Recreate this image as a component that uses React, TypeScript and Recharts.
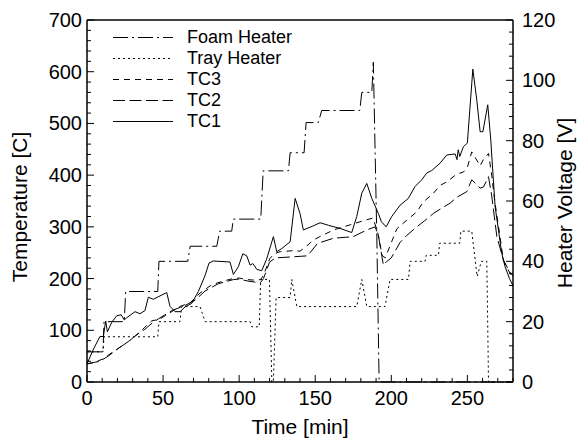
import { LineChart, Line, XAxis, YAxis, Legend } from 'recharts';

const font = '"Liberation Sans", Arial, Helvetica, sans-serif';

// heater voltages [V] vs time [min]
const foamTime = [0, 10.5, 11.2, 24.5, 25.4, 46.5, 47.3, 66.2, 67.8, 85.3, 87.2, 95.1, 96.2, 114.2, 115.8, 132.4, 133.5, 142.7, 144, 152, 154.3, 179.3, 180.6, 187.2, 188.2, 190.5, 192, 280];
const foamVolt = [10, 10, 20, 20, 30, 30, 40, 40, 45, 45, 50, 50, 54, 54, 70, 70, 76, 76, 86, 86, 90, 90, 96, 96, 106, 48, 0, 0];

const trayTime = [0, 10.5, 11.2, 46.5, 47.3, 61.1, 62.2, 74.3, 77.6, 107.2, 108.3, 113.2, 114.2, 119.9, 121.5, 122.5, 124.3, 133.5, 134.6, 137.9, 177.3, 180.6, 183.9, 195.9, 199.2, 211.3, 212.4, 222.2, 222.9, 231, 231.8, 245, 245.7, 252.9, 256.4, 259.2, 262.8, 263.9, 280];
const trayVolt = [10, 10, 15, 15, 20, 20, 25, 25, 20, 20, 18.3, 18.3, 34, 34, 0, 0, 28, 28, 34, 25, 25, 34, 25, 25, 34, 34, 40, 40, 42, 42, 46, 46, 50, 50, 35, 40, 40, 0, 0];

// thermocouple temperatures [C] vs time [min]
const tc1Time = [0, 4, 8.5, 10.7, 12.3, 13.4, 16.2, 19.5, 22.4, 24.5, 26, 31.6, 34.8, 38.1, 40.3, 43.6, 52.4, 54.6, 57.9, 61.2, 64.4, 68.8, 73.2, 77.6, 80.2, 83, 94, 96.2, 99.5, 102.4, 105, 107.2, 109, 111.6, 114.8, 118, 122.5, 124.7, 128, 133.5, 136.8, 140, 142.2, 148.8, 153.2, 158.7, 166.3, 174, 177.3, 180.6, 183.9, 187.2, 191.5, 193.5, 196.6, 200.3, 205.8, 211.2, 215.6, 220, 223.3, 226.6, 232, 236.5, 242, 243.2, 244, 245, 247.4, 250, 253.6, 256.2, 258.4, 260.2, 263.4, 265.4, 268.2, 272.6, 274.8, 277.7, 280];
const tc1Temp = [35, 62, 88, 88, 118, 97, 115, 128, 130, 120, 124, 136, 132, 138, 164, 160, 173, 146, 136, 136, 145, 152, 175, 206, 230, 234, 232, 208, 223, 248, 244, 226, 229, 218, 215, 237, 281, 252, 258, 271, 355, 326, 294, 302, 308, 303, 297, 289, 320, 365, 384, 355, 326, 310, 300, 320, 342, 355, 378, 391, 404, 409, 423, 439, 441, 430, 449, 436, 455, 462, 605, 545, 484, 484, 536, 468, 340, 249, 223, 200, 186];

const tc2Time = [0, 5, 8.5, 14, 20.6, 27.2, 32, 38.1, 42, 46.9, 55.7, 64.4, 71, 77.6, 86.3, 96.2, 100, 106, 111, 114, 116, 120, 124, 135, 145, 151.5, 162, 175, 183.9, 189.3, 191.5, 194.8, 197, 200, 205.8, 210, 216.8, 222, 227.7, 232, 238.7, 243, 249.6, 252.9, 258.4, 260.6, 263.9, 266, 269.4, 273.7, 277.7, 280];
const tc2Temp = [35, 38, 40, 50, 65, 78, 90, 102, 112, 122, 138, 148, 158, 176, 190, 198, 199, 195, 193, 192, 200, 232, 240, 242, 244, 268, 278, 281, 294, 300, 284, 226, 233, 240, 270, 283, 300, 312, 326, 334, 346, 357, 368, 391, 375, 377, 397, 360, 281, 236, 213, 205];

const tc3Time = [0, 5, 10, 15, 20, 27, 33, 38, 42.5, 48, 54.6, 61, 67.7, 74.3, 81, 86, 92, 96, 100, 105, 110, 114, 116, 120, 123, 127, 135.6, 140, 144, 149, 153, 162, 173, 183, 188, 191, 194, 196, 199, 203.6, 210.2, 216.8, 221, 227.7, 232, 236.5, 243, 247.4, 250, 252.9, 256.2, 258.4, 260.5, 263.9, 266, 268, 271, 273.7, 277.7, 280];
const tc3Temp = [35, 38, 44, 54, 64, 78, 92, 106, 118, 122, 134, 146, 153, 172, 186, 192, 197, 200, 201, 198, 197, 198, 206, 238, 248, 252, 254, 253, 262, 275, 281, 294, 304, 313, 317, 290, 245, 240, 262, 296, 313, 329, 348, 365, 380, 387, 402, 406, 415, 445, 429, 418, 430, 442, 400, 350, 290, 235, 212, 200];

// axis ticks: labelled majors, unlabelled minors in between
const timeMajor = [0, 50, 100, 150, 200, 250];
const tempMajor = [0, 100, 200, 300, 400, 500, 600, 700];
const voltMajor = [0, 20, 40, 60, 80, 100, 120];
const timeTicks = Array.from({ length: 29 }, (_, i) => i * 10);
const tempTicks = Array.from({ length: 36 }, (_, i) => i * 20);
const voltTicks = Array.from({ length: 31 }, (_, i) => i * 4);

const legendNames = ['Foam Heater', 'Tray Heater', 'TC3', 'TC2', 'TC1'];
const dashes: Record<string, string | undefined> = {
  'Foam Heater': '15 4 2 4',
  'Tray Heater': '2 3',
  TC3: '6 5',
  TC2: '12 4.5',
  TC1: undefined,
};

const zip = (t: number[], v: number[]) => t.map((x, i) => ({ t: x, v: v[i] }));

function BottomTick({ x, y, payload }: any) {
  const major = timeMajor.includes(payload.value);
  return (
    <g>
      <line x1={x} x2={x} y1={y} y2={y - (major ? 7 : 4)} stroke="#000" />
      {major && (
        <text x={x} y={y + 23} textAnchor="middle" fontSize={20} fontFamily={font} fill="#000">
          {payload.value}
        </text>
      )}
    </g>
  );
}

function TopTick({ x, y, payload }: any) {
  const major = timeMajor.includes(payload.value);
  return <line x1={x} x2={x} y1={y} y2={y + (major ? 7 : 4)} stroke="#000" />;
}

function LeftTick({ x, y, payload }: any) {
  const major = tempMajor.includes(payload.value);
  return (
    <g>
      <line x1={x} x2={x + (major ? 7 : 4)} y1={y} y2={y} stroke="#000" />
      {major && (
        <text x={x - 5} y={y + 7} textAnchor="end" fontSize={20} fontFamily={font} fill="#000">
          {payload.value}
        </text>
      )}
    </g>
  );
}

function RightTick({ x, y, payload }: any) {
  const major = voltMajor.includes(payload.value);
  return (
    <g>
      <line x1={x} x2={x - (major ? 7 : 4)} y1={y} y2={y} stroke="#000" />
      {major && (
        <text x={x + 9} y={y + 7} textAnchor="start" fontSize={20} fontFamily={font} fill="#000">
          {payload.value}
        </text>
      )}
    </g>
  );
}

function LegendBox() {
  return (
    <div style={{ fontFamily: font, fontSize: 18, color: '#000' }}>
      {legendNames.map(name => (
        <div key={name} style={{ display: 'flex', alignItems: 'center', height: 21 }}>
          <svg width={60} height={21} style={{ marginRight: 14 }}>
            <line x1={0} x2={60} y1={10.5} y2={10.5} stroke="#000" strokeWidth={1} strokeDasharray={dashes[name]} />
          </svg>
          <span style={{ lineHeight: '21px' }}>{name}</span>
        </div>
      ))}
    </div>
  );
}

const titleProps = { fontSize: 21, fontFamily: font, fill: '#000', textAnchor: 'middle' as const };

export default function App() {
  const axisLine = { stroke: '#000', strokeWidth: 1.5 };
  return (
    <div style={{ position: 'absolute', left: 0, top: 0, width: 582, height: 439, background: '#fff' }}>
      <LineChart width={582} height={439} margin={{ top: 0, right: 0, bottom: 0, left: 0 }}>
        <XAxis
          xAxisId="bottom"
          type="number"
          dataKey="t"
          domain={[0, 280]}
          ticks={timeTicks}
          interval={0}
          tickSize={0}
          tickMargin={0}
          tickLine={false}
          tick={<BottomTick />}
          axisLine={axisLine}
          height={57}
          label={({ viewBox }: any) => {
            const vb = viewBox || { x: 87, y: 382, width: 426 };
            return (
              <text x={vb.x + vb.width / 2} y={vb.y + 52} {...titleProps}>
                Time [min]
              </text>
            );
          }}
        />
        <XAxis
          xAxisId="top"
          orientation="top"
          type="number"
          dataKey="t"
          domain={[0, 280]}
          ticks={timeTicks}
          interval={0}
          tickSize={0}
          tickMargin={0}
          tickLine={false}
          tick={<TopTick />}
          axisLine={axisLine}
          height={20}
        />
        <YAxis
          yAxisId="temp"
          orientation="left"
          type="number"
          domain={[0, 700]}
          ticks={tempTicks}
          interval={0}
          tickSize={0}
          tickMargin={0}
          tickLine={false}
          tick={<LeftTick />}
          axisLine={axisLine}
          width={87}
          label={({ viewBox }: any) => {
            const vb = viewBox || { x: 0, y: 20, height: 362 };
            const cx = vb.x + 20;
            const cy = vb.y + vb.height / 2 + 6;
            return (
              <text transform={`translate(${cx},${cy}) rotate(-90)`} dy={7} {...titleProps}>
                Temperature [C]
              </text>
            );
          }}
        />
        <YAxis
          yAxisId="volt"
          orientation="right"
          type="number"
          domain={[0, 120]}
          ticks={voltTicks}
          interval={0}
          tickSize={0}
          tickMargin={0}
          tickLine={false}
          tick={<RightTick />}
          axisLine={axisLine}
          width={69}
          label={({ viewBox }: any) => {
            const vb = viewBox || { x: 513, y: 20, height: 362 };
            const cx = vb.x + 52;
            const cy = vb.y + vb.height / 2 + 2;
            return (
              <text transform={`translate(${cx},${cy}) rotate(-90)`} dy={7} {...titleProps}>
                Heater Voltage [V]
              </text>
            );
          }}
        />
        <Legend
          layout="vertical"
          align="center"
          verticalAlign="middle"
          content={<LegendBox />}
          wrapperStyle={{ left: 113, top: 27, width: 220, height: 110 }}
        />
        <Line data={zip(foamTime, foamVolt)} dataKey="v" name="Foam Heater" xAxisId="bottom" yAxisId="volt"
          type="linear" stroke="#000" strokeWidth={1} strokeDasharray={dashes['Foam Heater']} dot={false} isAnimationActive={false} />
        <Line data={zip(trayTime, trayVolt)} dataKey="v" name="Tray Heater" xAxisId="bottom" yAxisId="volt"
          type="linear" stroke="#000" strokeWidth={1} strokeDasharray={dashes['Tray Heater']} dot={false} isAnimationActive={false} />
        <Line data={zip(tc3Time, tc3Temp)} dataKey="v" name="TC3" xAxisId="bottom" yAxisId="temp"
          type="linear" stroke="#000" strokeWidth={1} strokeDasharray={dashes.TC3} dot={false} isAnimationActive={false} />
        <Line data={zip(tc2Time, tc2Temp)} dataKey="v" name="TC2" xAxisId="bottom" yAxisId="temp"
          type="linear" stroke="#000" strokeWidth={1} strokeDasharray={dashes.TC2} dot={false} isAnimationActive={false} />
        <Line data={zip(tc1Time, tc1Temp)} dataKey="v" name="TC1" xAxisId="bottom" yAxisId="temp"
          type="linear" stroke="#000" strokeWidth={1} dot={false} isAnimationActive={false} />
      </LineChart>
    </div>
  );
}
